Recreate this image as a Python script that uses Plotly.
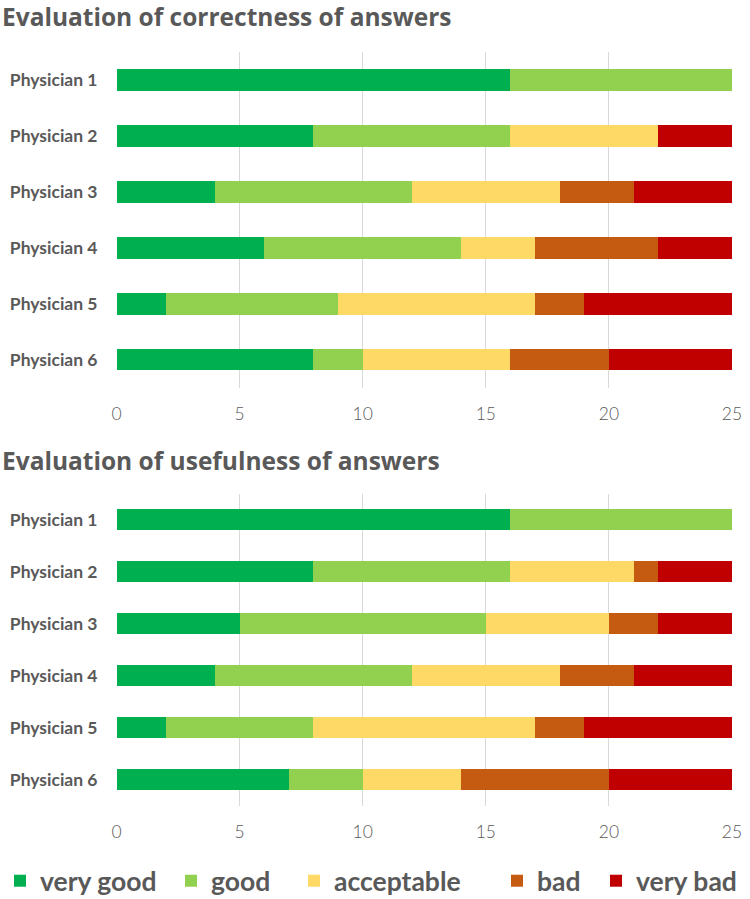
import plotly.graph_objects as go

physicians = ["Physician 1", "Physician 2", "Physician 3", "Physician 4", "Physician 5", "Physician 6"]
ratings = ["very good", "good", "acceptable", "bad", "very bad"]
colors = ["#00B050", "#92D050", "#FFD966", "#C55A11", "#C00000"]

# correctness: counts per rating for physicians 1..6
corr_very_good = [16, 8, 4, 6, 2, 8]
corr_good = [9, 8, 8, 8, 7, 2]
corr_acceptable = [0, 6, 6, 3, 8, 6]
corr_bad = [0, 0, 3, 5, 2, 4]
corr_very_bad = [0, 3, 4, 3, 6, 5]

# usefulness
use_very_good = [16, 8, 5, 4, 2, 7]
use_good = [9, 8, 10, 8, 6, 3]
use_acceptable = [0, 5, 5, 6, 9, 4]
use_bad = [0, 1, 2, 3, 2, 6]
use_very_bad = [0, 3, 3, 4, 6, 5]

x_ticks = [0, 5, 10, 15, 20, 25]

titles = ["Evaluation of correctness of answers", "Evaluation of usefulness of answers"]

corr = [corr_very_good, corr_good, corr_acceptable, corr_bad, corr_very_bad]
use = [use_very_good, use_good, use_acceptable, use_bad, use_very_bad]

TXT = "#595959"
FONT = "Lato"
W, H = 750, 899

# legend spacing (px) per entry
legend_widths = [126, 78, 158, 54, None]

fig = go.Figure()
for i, (name, col) in enumerate(zip(ratings, colors)):
    kw = {}
    if legend_widths[i] is not None:
        kw["legendwidth"] = legend_widths[i]
    fig.add_trace(go.Bar(x=corr[i], y=physicians, orientation="h", name=name,
                         marker=dict(color=col, line=dict(width=0)),
                         xaxis="x", yaxis="y", legendgroup=name, showlegend=True, **kw))
for i, (name, col) in enumerate(zip(ratings, colors)):
    fig.add_trace(go.Bar(x=use[i], y=physicians, orientation="h", name=name,
                         marker=dict(color=col, line=dict(width=0)),
                         xaxis="x2", yaxis="y2", legendgroup=name, showlegend=False))

def py(px):
    return 1 - px / H

xdom = [116.5 / W, 732 / W]
common_x = dict(range=[0, 25], tickvals=x_ticks, showgrid=True, gridcolor="#D9D9D9", gridwidth=1,
                zeroline=False, showline=False, ticks="", ticklabelstandoff=14,
                tickfont=dict(family=FONT, size=17.5, color=TXT, weight=300),
                domain=xdom, fixedrange=True)
common_y = dict(autorange="reversed", showgrid=False, zeroline=False, showline=False, ticks="",
                tickfont=dict(family=FONT, size=17.5, color=TXT, weight="bold"),
                ticklabelstandoff=18, fixedrange=True)

fig.update_layout(
    width=W, height=H,
    margin=dict(l=0, r=0, t=0, b=0, autoexpand=False),
    paper_bgcolor="white", plot_bgcolor="white",
    barmode="stack",
    bargap=0.61,
    xaxis=dict(**common_x, anchor="y"),
    yaxis=dict(**common_y, domain=[py(387.5), py(52)], anchor="x"),
    xaxis2=dict(**common_x, anchor="y2"),
    yaxis2=dict(**common_y, domain=[py(805.5), py(493.5)], anchor="x2"),
    legend=dict(orientation="h", x=0, xanchor="left", y=py(881), yanchor="middle",
                font=dict(family=FONT, size=26.5, color=TXT, weight="bold"),
                itemwidth=30, tracegroupgap=0, bgcolor="rgba(0,0,0,0)"),
    showlegend=True,
)

fig.add_annotation(text=titles[0], x=0, y=py(16), xref="paper", yref="paper",
                   xanchor="left", yanchor="middle", showarrow=False,
                   font=dict(family="Open Sans", size=24.5, color=TXT, weight="bold"))
fig.add_annotation(text=titles[1], x=0, y=py(460), xref="paper", yref="paper",
                   xanchor="left", yanchor="middle", showarrow=False,
                   font=dict(family="Open Sans", size=24.5, color=TXT, weight="bold"))

fig.write_html("out.html", config={"displayModeBar": False},
               post_script="document.body.style.margin='0';")
